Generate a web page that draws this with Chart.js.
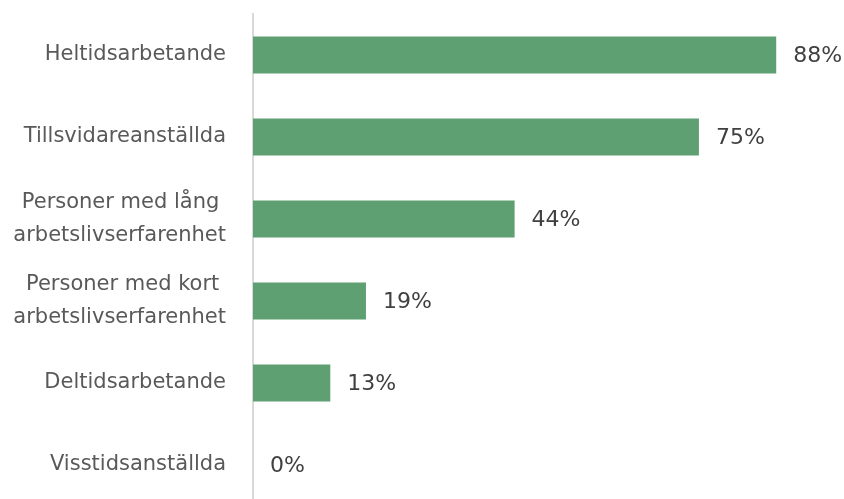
<!DOCTYPE html>
<html lang="sv">
  <head>
    <meta charset="UTF-8" />
    <title>Andel per anställningsform</title>
    <script src="https://cdn.jsdelivr.net/npm/chart.js"></script>
    <style>
      html,
      body {
        margin: 0;
        padding: 0;
        background: #fff;
        overflow: hidden;
      }
      .wrap {
        position: relative;
        width: 844px;
        height: 508px;
      }
    </style>
  </head>
  <body>
    <div class="wrap">
      <canvas id="chart"></canvas>
    </div>

    <script>
      const categories = [
        ["Heltidsarbetande"],
        ["Tillsvidareanställda"],
        ["Personer med lång ", "arbetslivserfarenhet"],
        ["Personer med kort ", "arbetslivserfarenhet"],
        ["Deltidsarbetande"],
        ["Visstidsanställda"],
      ];
      const shares = [88, 75, 44, 19, 13, 0];

      const FONT = "'DejaVu Sans', 'Open Sans', sans-serif";

      // percent labels to the right of each bar
      const valueLabels = {
        id: "valueLabels",
        afterDatasetsDraw(chart) {
          const ctx = chart.ctx;
          const meta = chart.getDatasetMeta(0);
          ctx.save();
          ctx.fillStyle = "#404040";
          ctx.font = "22px " + FONT;
          ctx.textBaseline = "middle";
          ctx.textAlign = "left";
          meta.data.forEach((bar, i) => {
            ctx.fillText(shares[i] + "%", bar.x + 17, bar.y + 1);
          });
          ctx.restore();
        },
      };

      new Chart(document.getElementById("chart"), {
        type: "bar",
        data: {
          labels: categories,
          datasets: [
            {
              data: shares,
              backgroundColor: "#5fa072",
              barPercentage: 0.9,
              categoryPercentage: 0.5,
            },
          ],
        },
        options: {
          indexAxis: "y",
          responsive: true,
          maintainAspectRatio: false,
          animation: false,
          layout: { padding: { top: 14, right: 0, bottom: 2, left: 0 } },
          plugins: {
            legend: { display: false },
            tooltip: { enabled: false },
          },
          scales: {
            x: {
              display: false,
              min: 0,
              max: 99.4,
            },
            y: {
              afterFit(scale) {
                scale.width = 253;
                scale.paddingTop = 0;
                scale.paddingBottom = 0;
              },
              grid: { display: false, drawTicks: false },
              border: { display: true, color: "#d9d9d9", width: 2 },
              ticks: {
                color: "#595959",
                padding: 27,
                font: { family: FONT, size: 21, lineHeight: 1.55 },
              },
            },
          },
        },
        plugins: [valueLabels],
      });
    </script>
  </body>
</html>
